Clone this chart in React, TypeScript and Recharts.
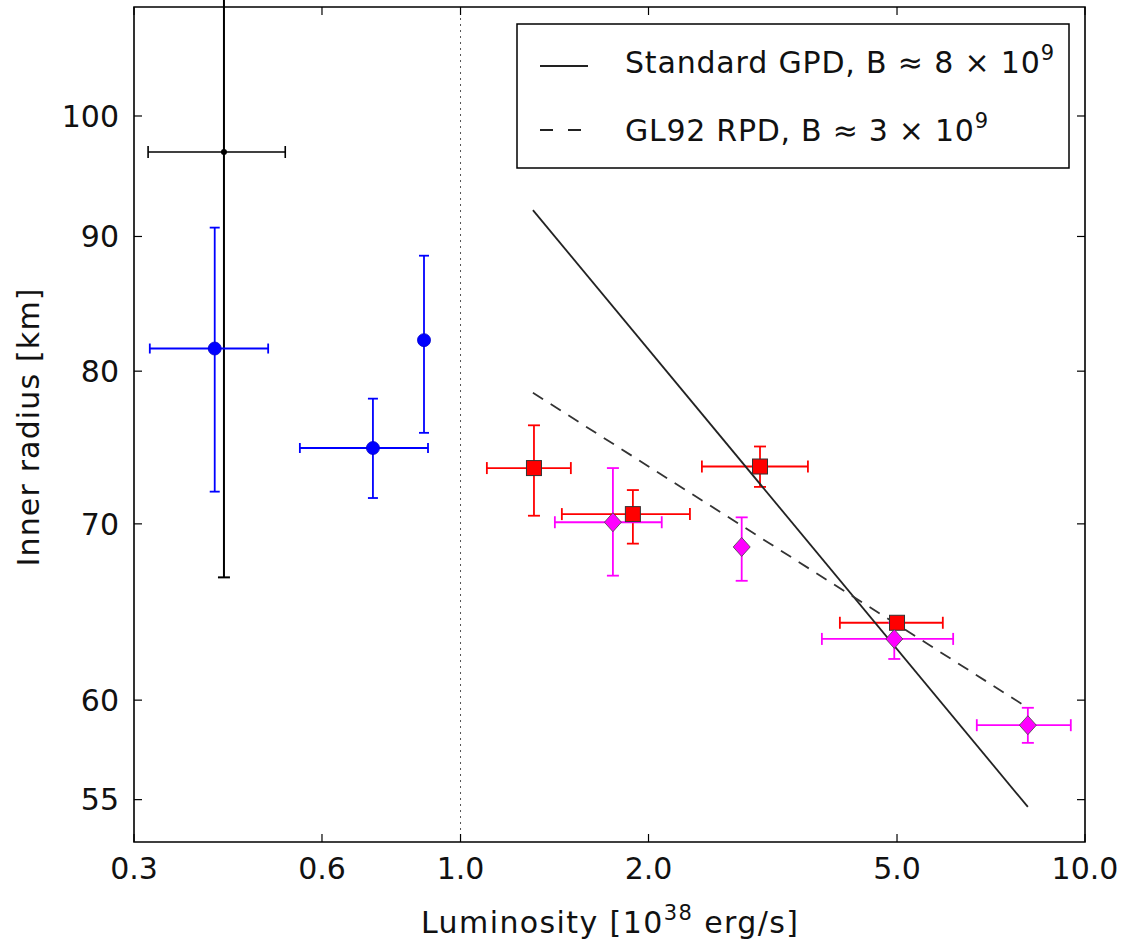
import {
  ComposedChart,
  Scatter,
  Line,
  XAxis,
  YAxis,
  ErrorBar,
  ReferenceLine,
  ReferenceArea,
} from 'recharts';

const FONT = "'DejaVu Sans', 'Liberation Sans', sans-serif";

// plot frame in page pixels
const PLOT_L = 134;
const PLOT_R = 1085;
const PLOT_T = 7;
const PLOT_B = 842;
const TICK_LEN = 8;

const xTicks = [0.3, 0.6, 1, 2, 5, 10];
const yTicks = [55, 60, 70, 80, 90, 100];

// black: single low-luminosity point, upper radius error runs off the top
const blackLum = [0.418];
const blackLumLo = [0.316];
const blackLumHi = [0.524];
const blackRad = [96.9];
const blackRadLo = [66.8];
const blackRadHi = [140];

// blue circles
const blueLum = [0.404, 0.724, 0.874];
const blueLumLo = [0.318, 0.553, 0.874];
const blueLumHi = [0.492, 0.887, 0.874];
const blueRad = [81.6, 74.8, 82.2];
const blueRadLo = [72.0, 71.6, 75.8];
const blueRadHi = [90.7, 78.1, 88.5];

// red squares
const redLum = [1.311, 1.888, 3.017, 5.0];
const redLumLo = [1.102, 1.453, 2.435, 4.05];
const redLumHi = [1.502, 2.33, 3.6, 5.92];
const redRad = [73.5, 70.6, 73.6, 64.2];
const redRadLo = [70.5, 68.8, 72.3, 64.2];
const redRadHi = [76.3, 72.1, 74.9, 64.2];

// magenta diamonds
const magLum = [1.754, 2.82, 4.95, 8.1];
const magLumLo = [1.416, 2.82, 3.79, 6.71];
const magLumHi = [2.1, 2.82, 6.15, 9.49];
const magRad = [70.1, 68.6, 63.3, 58.7];
const magRadLo = [66.9, 66.6, 62.2, 57.8];
const magRadHi = [73.5, 70.4, 64.2, 59.6];

// model curves (straight in log-log)
const gpdLum = [1.306, 8.1];
const gpdRad = [92.1, 54.65];
const rpdLum = [1.306, 8.1];
const rpdRad = [78.5, 59.6];

function points(
  lum: number[],
  lumLo: number[],
  lumHi: number[],
  rad: number[],
  radLo: number[],
  radHi: number[],
) {
  return lum.map((x, i) => ({
    x,
    y: rad[i],
    ex: [x - lumLo[i], lumHi[i] - x],
    ey: [rad[i] - radLo[i], radHi[i] - rad[i]],
  }));
}

const blackData = points(blackLum, blackLumLo, blackLumHi, blackRad, blackRadLo, blackRadHi);
const blueData = points(blueLum, blueLumLo, blueLumHi, blueRad, blueRadLo, blueRadHi);
const redData = points(redLum, redLumLo, redLumHi, redRad, redRadLo, redRadHi);
const magData = points(magLum, magLumLo, magLumHi, magRad, magRadLo, magRadHi);
const gpdData = gpdLum.map((x, i) => ({ x, y: gpdRad[i] }));
const rpdData = rpdLum.map((x, i) => ({ x, y: rpdRad[i] }));

const XTick = (p: any) => {
  const x = p.x;
  return (
    <g>
      <line x1={x} x2={x} y1={PLOT_B} y2={PLOT_B - TICK_LEN} stroke="#000" strokeWidth={1.2} />
      <line x1={x} x2={x} y1={PLOT_T} y2={PLOT_T + TICK_LEN} stroke="#000" strokeWidth={1.2} />
      <text x={x} y={PLOT_B + 37} textAnchor="middle" fontSize={30} fontFamily={FONT} fill="#111">
        {Number(p.payload.value).toFixed(1)}
      </text>
    </g>
  );
};

const YTick = (p: any) => {
  const y = p.y;
  return (
    <g>
      <line x1={PLOT_L} x2={PLOT_L + TICK_LEN} y1={y} y2={y} stroke="#000" strokeWidth={1.2} />
      <line x1={PLOT_R} x2={PLOT_R - TICK_LEN} y1={y} y2={y} stroke="#000" strokeWidth={1.2} />
      <text x={PLOT_L - 15} y={y} dy="0.36em" textAnchor="end" fontSize={30} fontFamily={FONT} fill="#111">
        {p.payload.value}
      </text>
    </g>
  );
};

const xLabel = (p: any) => {
  const vb = p.viewBox;
  return (
    <text
      x={vb.x + vb.width / 2}
      y={PLOT_B + 91}
      textAnchor="middle"
      fontSize={30}
      fontFamily={FONT}
      fill="#111"
      textLength={377}
      lengthAdjust="spacing"
    >
      Luminosity [10
      <tspan dy={-13} fontSize={21}>38</tspan>
      <tspan dy={13}> erg/s]</tspan>
    </text>
  );
};

const yLabel = (p: any) => {
  const vb = p.viewBox;
  const cy = vb.y + vb.height / 2 + 3;
  return (
    <text
      x={39}
      y={cy}
      transform={`rotate(-90 39 ${cy})`}
      textAnchor="middle"
      fontSize={30}
      fontFamily={FONT}
      fill="#111"
      textLength={278}
      lengthAdjust="spacing"
    >
      Inner radius [km]
    </text>
  );
};

const dot = (p: any) => <circle cx={p.cx} cy={p.cy} r={3} fill="#000" />;
const blueDot = (p: any) => <circle cx={p.cx} cy={p.cy} r={6.5} fill="#0000ff" stroke="#0000cc" strokeWidth={0.8} />;
const redSquare = (p: any) => (
  <rect x={p.cx - 7.5} y={p.cy - 7.5} width={15} height={15} fill="#ff0000" stroke="#333" strokeWidth={1} />
);
const magDiamond = (p: any) => (
  <polygon
    points={`${p.cx},${p.cy - 9.5} ${p.cx + 8.5},${p.cy} ${p.cx},${p.cy + 9.5} ${p.cx - 8.5},${p.cy}`}
    fill="#ff00ff"
    stroke="#444"
    strokeWidth={0.8}
  />
);

function Legend() {
  return (
    <svg
      width={1132}
      height={948}
      style={{ position: 'absolute', left: 0, top: 0, pointerEvents: 'none' }}
    >
      <rect x={517} y={24} width={552} height={144} fill="#fff" stroke="#000" strokeWidth={1.5} />
      <line x1={540} x2={588} y1={66} y2={66} stroke="#222" strokeWidth={1.8} />
      <line x1={540} x2={588} y1={130} y2={130} stroke="#222" strokeWidth={1.8} strokeDasharray="13 15" />
      <text x={625} y={73} fontSize={30} fontFamily={FONT} fill="#111" textLength={429} lengthAdjust="spacing">
        Standard GPD, B ≈ 8 × 10
        <tspan dy={-13} fontSize={21}>9</tspan>
      </text>
      <text x={625} y={141} fontSize={30} fontFamily={FONT} fill="#111" textLength={363} lengthAdjust="spacing">
        GL92 RPD, B ≈ 3 × 10
        <tspan dy={-13} fontSize={21}>9</tspan>
      </text>
    </svg>
  );
}

export default function App() {
  return (
    <div style={{ position: 'absolute', left: 0, top: 0, width: 1132, height: 948, background: '#fff' }}>
      <ComposedChart
        width={1132}
        height={948}
        margin={{ top: PLOT_T, right: 1132 - PLOT_R, bottom: 0, left: 0 }}
      >
        <XAxis
          dataKey="x"
          type="number"
          scale="log"
          domain={[0.3, 10]}
          ticks={xTicks}
          interval={0}
          allowDataOverflow
          height={948 - PLOT_B}
          tickLine={false}
          axisLine={false}
          tickSize={0}
          tick={XTick}
          label={xLabel}
        />
        <YAxis
          dataKey="y"
          type="number"
          scale="log"
          domain={[53, 110]}
          ticks={yTicks}
          interval={0}
          allowDataOverflow
          width={PLOT_L}
          tickLine={false}
          axisLine={false}
          tickSize={0}
          tick={YTick}
          label={yLabel}
        />
        <ReferenceLine x={1} stroke="#555" strokeWidth={1} strokeDasharray="2 4" />
        <Scatter data={blackData} shape={dot} isAnimationActive={false}>
          <ErrorBar dataKey="ex" direction="x" width={6} stroke="#000" strokeWidth={1.6} />
          <ErrorBar dataKey="ey" direction="y" width={6} stroke="#000" strokeWidth={2} />
        </Scatter>
        <Scatter data={blueData} shape={blueDot} isAnimationActive={false}>
          <ErrorBar dataKey="ex" direction="x" width={5} stroke="#0000ff" strokeWidth={1.8} />
          <ErrorBar dataKey="ey" direction="y" width={5} stroke="#0000ff" strokeWidth={1.8} />
        </Scatter>
        <Scatter data={redData} shape={redSquare} isAnimationActive={false}>
          <ErrorBar dataKey="ex" direction="x" width={6} stroke="#ff0000" strokeWidth={1.8} />
          <ErrorBar dataKey="ey" direction="y" width={6} stroke="#ff0000" strokeWidth={1.8} />
        </Scatter>
        <Scatter data={magData} shape={magDiamond} isAnimationActive={false}>
          <ErrorBar dataKey="ex" direction="x" width={6} stroke="#ff00ff" strokeWidth={1.8} />
          <ErrorBar dataKey="ey" direction="y" width={6} stroke="#ff00ff" strokeWidth={1.8} />
        </Scatter>
        <Line
          data={gpdData}
          dataKey="y"
          type="linear"
          stroke="#222"
          strokeWidth={1.8}
          dot={false}
          activeDot={false}
          isAnimationActive={false}
        />
        <Line
          data={rpdData}
          dataKey="y"
          type="linear"
          stroke="#333"
          strokeWidth={1.8}
          strokeDasharray="12 9"
          dot={false}
          activeDot={false}
          isAnimationActive={false}
        />
        <ReferenceArea
          x1={0.3}
          x2={10}
          y1={53}
          y2={110}
          fill="none"
          fillOpacity={0}
          stroke="#000"
          strokeWidth={1.6}
          ifOverflow="visible"
        />
      </ComposedChart>
      <Legend />
    </div>
  );
}
